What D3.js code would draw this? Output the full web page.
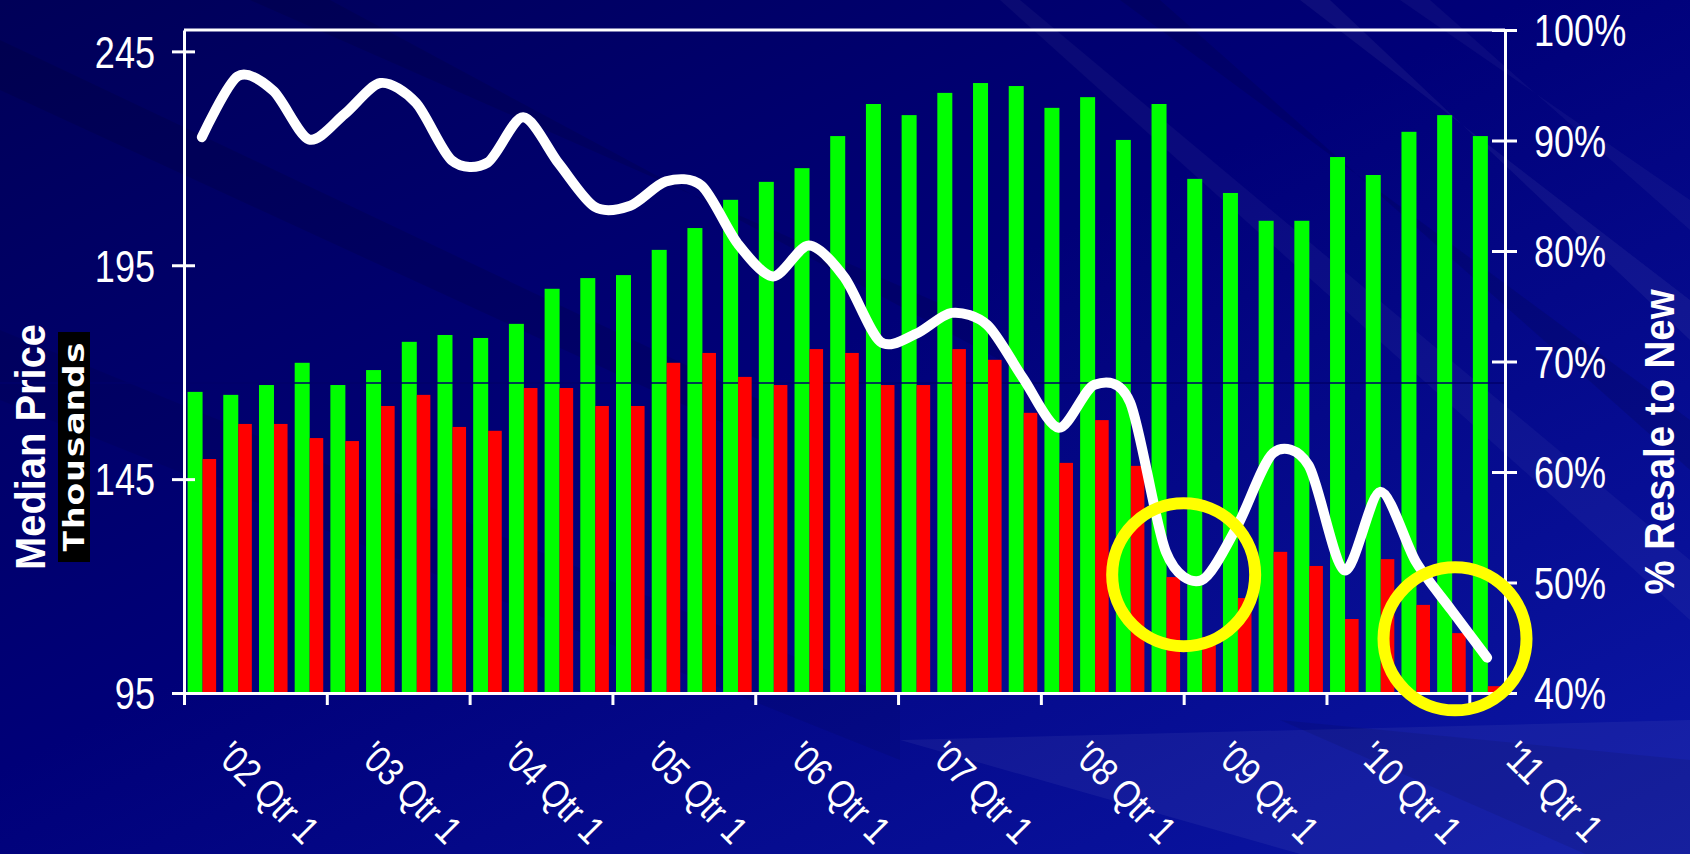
<!DOCTYPE html>
<html>
<head>
<meta charset="utf-8">
<script src="https://cdn.jsdelivr.net/npm/d3@7"></script>
<style>
  html, body { margin: 0; padding: 0; background: #000070; overflow: hidden; }
  svg { display: block; }
</style>
</head>
<body>
<script>
// quarterly data, '02 Q1 .. '11 Q1
const quarters = [];
for (let yr = 2; yr <= 11; yr++) {
    for (let q = 1; q <= 4; q++) {
        if (yr === 11 && q > 1) break;
        quarters.push(`'${String(yr).padStart(2, "0")} Qtr ${q}`);
    }
}

// median price, thousands
const newPrice = [165.4, 164.7, 167.0, 172.2, 167.0, 170.5, 177.1, 178.7, 178.0, 181.3,
                  189.5, 192.0, 192.7, 198.6, 203.7, 210.3, 214.5, 217.7, 225.2, 232.7,
                  230.1, 235.3, 237.6, 236.9, 231.8, 234.3, 224.3, 232.7, 215.2, 211.9,
                  205.4, 205.4, 220.3, 216.1, 226.2, 230.1, 225.2];
const resalePrice = [149.7, 157.9, 157.9, 154.6, 153.9, 162.1, 164.7, 157.2, 156.3, 166.3,
                     166.3, 162.1, 162.1, 172.2, 174.5, 168.9, 167.0, 175.4, 174.5, 167.0,
                     167.0, 175.4, 172.9, 160.5, 148.8, 158.8, 148.1, 122.1, 108.1, 117.2,
                     128.0, 124.7, 112.3, 126.3, 115.6, 109.0, 96.6];
// resale price as share of new
const resaleRatio = [0.903, 0.958, 0.945, 0.901, 0.924, 0.952, 0.934, 0.882, 0.880, 0.921,
                     0.879, 0.840, 0.841, 0.863, 0.859, 0.807, 0.777, 0.805, 0.776, 0.718,
                     0.725, 0.744, 0.733, 0.685, 0.640, 0.679, 0.663, 0.528, 0.502, 0.551,
                     0.617, 0.606, 0.511, 0.582, 0.519, 0.475, 0.432];

const leftTicks = [95, 145, 195, 245];
const rightTicks = [0.4, 0.5, 0.6, 0.7, 0.8, 0.9, 1.0];
const yearTickIdx = d3.range(0, quarters.length, 4);
const refLevel = 167.5;
// circled spots: position in quarters, ratio
const highlights = [{ q: 28.0, ratio: 0.507 }, { q: 35.6, ratio: 0.449 }];

const W = 1690, H = 854;
const plotL = 184, plotR = 1505, plotT = 30, plotB = 693;
const GREEN = "#00ff00", RED = "#ff0000", YELLOW = "#ffff00";
const FONT = "'Liberation Sans', Arial, sans-serif";

const svg = d3.select("body").append("svg")
    .attr("width", W)
    .attr("height", H);

// ---- background ----
const defs = svg.append("defs");
const bg = defs.append("linearGradient").attr("id", "bg")
    .attr("x1", 0).attr("y1", 0).attr("x2", 1).attr("y2", 1);
bg.append("stop").attr("offset", 0).attr("stop-color", "#000058");
bg.append("stop").attr("offset", 0.45).attr("stop-color", "#000078");
bg.append("stop").attr("offset", 1).attr("stop-color", "#0c18a8");
svg.append("rect").attr("width", W).attr("height", H).attr("fill", "url(#bg)");

const stripes = [
    { pts: [[0, 40], [760, 400], [760, 440], [0, 90]], fill: "#000", op: 0.10 },
    { pts: [[0, 330], [900, 700], [900, 760], [0, 400]], fill: "#000", op: 0.07 },
    { pts: [[250, 0], [1000, 330], [1000, 360], [330, 0]], fill: "#000", op: 0.10 },
    { pts: [[1020, 0], [1690, 560], [1690, 620], [1000, 0]], fill: "#fff", op: 0.04 },
    { pts: [[1120, 0], [1690, 420], [1690, 470], [1160, 0]], fill: "#000", op: 0.10 },
    { pts: [[1300, 0], [1690, 300], [1690, 340], [1330, 0]], fill: "#fff", op: 0.05 },
    { pts: [[1400, 0], [1690, 200], [1690, 230], [1430, 0]], fill: "#fff", op: 0.04 },
    { pts: [[900, 740], [1690, 720], [1690, 854], [1300, 854]], fill: "#fff", op: 0.05 },
    { pts: [[1280, 720], [1690, 900], [1690, 854], [1690, 760]], fill: "#000", op: 0.08 }
];
svg.append("g").selectAll("polygon").data(stripes).join("polygon")
    .attr("points", d => d.pts.map(p => p.join(",")).join(" "))
    .attr("fill", d => d.fill)
    .attr("fill-opacity", d => d.op);

// ---- scales ----
const x = d3.scaleBand().domain(d3.range(quarters.length)).range([plotL, plotR]);
const xq = d3.scaleLinear().domain([0, quarters.length]).range([plotL, plotR]);
const yL = d3.scaleLinear().domain([95, 250]).range([plotB, plotT]);
const yR = d3.scaleLinear().domain([0.4, 1.0]).range([plotB, plotT]);
const bw = x.bandwidth();

// ---- bars ----
svg.append("g").selectAll("rect").data(newPrice).join("rect")
    .attr("x", (d, i) => x(i) + bw * 0.1)
    .attr("width", bw * 0.42)
    .attr("y", d => yL(d))
    .attr("height", d => plotB - yL(d))
    .attr("fill", GREEN);

// thin dark line crossing the chart
svg.append("line")
    .attr("x1", 0).attr("x2", plotR)
    .attr("y1", yL(refLevel)).attr("y2", yL(refLevel))
    .attr("stroke", "#00006a").attr("stroke-width", 1.5);

svg.append("g").selectAll("rect").data(resalePrice).join("rect")
    .attr("x", (d, i) => x(i) + bw * 0.52)
    .attr("width", bw * 0.38)
    .attr("y", d => yL(d))
    .attr("height", d => plotB - yL(d))
    .attr("fill", RED);

// ---- ratio line ----
const line = d3.line()
    .x((d, i) => x(i) + bw / 2)
    .y(d => yR(d))
    .curve(d3.curveCardinal.tension(0.15));
svg.append("path")
    .datum(resaleRatio)
    .attr("d", line)
    .attr("fill", "none")
    .attr("stroke", "#fff")
    .attr("stroke-width", 10)
    .attr("stroke-linecap", "round")
    .attr("stroke-linejoin", "round");

// ---- axes ----
function styleAxis(g) {
    g.select(".domain").attr("stroke", "#fff").attr("stroke-width", 3);
    g.selectAll(".tick line").attr("stroke", "#fff").attr("stroke-width", 3);
    g.selectAll(".tick text")
        .attr("fill", "#fff")
        .style("font-family", FONT)
        .style("font-size", "44px");
}

const axL = svg.append("g")
    .attr("transform", `translate(${plotL},0)`)
    .call(d3.axisLeft(yL).tickValues(leftTicks).tickSizeOuter(0).tickFormat(d3.format("d")))
    .call(styleAxis);
axL.selectAll(".tick line").attr("x1", -12).attr("x2", 11);
axL.selectAll(".tick text")
    .attr("x", 0).attr("dy", "0.36em")
    .attr("transform", "translate(-29,0) scale(0.82,1)");

const axR = svg.append("g")
    .attr("transform", `translate(${plotR},0)`)
    .call(d3.axisRight(yR).tickValues(rightTicks).tickSizeOuter(0).tickFormat(d3.format(".0%")))
    .call(styleAxis);
axR.selectAll(".tick line").attr("x1", -13).attr("x2", 12);
axR.selectAll(".tick text")
    .attr("x", 0).attr("dy", "0.36em")
    .attr("transform", "translate(29,0) scale(0.82,1)");

const axB = svg.append("g")
    .attr("transform", `translate(0,${plotB})`)
    .call(d3.axisBottom(xq).tickValues(yearTickIdx).tickSize(12).tickSizeOuter(0).tickFormat(""))
    .call(styleAxis);

// top border of plot area
svg.append("line")
    .attr("x1", plotL).attr("x2", plotR)
    .attr("y1", plotT).attr("y2", plotT)
    .attr("stroke", "#fff").attr("stroke-width", 3);

// category labels, one per year
svg.append("g").selectAll("text").data(yearTickIdx).join("text")
    .attr("transform", i => `translate(${x(i) + bw / 2 + 13},758) rotate(45) scale(0.84,1)`)
    .attr("fill", "#fff")
    .style("font-family", FONT)
    .style("font-size", "39px")
    .text(i => quarters[i]);

// ---- axis titles ----
svg.append("text")
    .attr("transform", "translate(45,447) rotate(-90)")
    .attr("text-anchor", "middle")
    .attr("fill", "#fff")
    .attr("textLength", 246)
    .attr("lengthAdjust", "spacingAndGlyphs")
    .style("font-family", FONT)
    .style("font-weight", "bold")
    .style("font-size", "42px")
    .text("Median Price");

svg.append("rect")
    .attr("x", 58).attr("y", 332)
    .attr("width", 32).attr("height", 230)
    .attr("fill", "#000");
svg.append("text")
    .attr("transform", "translate(84,447) rotate(-90)")
    .attr("text-anchor", "middle")
    .attr("fill", "#fff")
    .attr("textLength", 212)
    .attr("lengthAdjust", "spacingAndGlyphs")
    .style("font-family", "'DejaVu Sans Mono', monospace")
    .style("font-weight", "bold")
    .style("font-size", "29px")
    .text("Thousands");

svg.append("text")
    .attr("transform", "translate(1674,442) rotate(-90)")
    .attr("text-anchor", "middle")
    .attr("fill", "#fff")
    .attr("textLength", 305)
    .attr("lengthAdjust", "spacingAndGlyphs")
    .style("font-family", FONT)
    .style("font-weight", "bold")
    .style("font-size", "42px")
    .text("% Resale to New");

// ---- highlight circles ----
svg.append("g").selectAll("circle").data(highlights).join("circle")
    .attr("cx", d => xq(d.q))
    .attr("cy", d => yR(d.ratio))
    .attr("r", 71.5)
    .attr("fill", "none")
    .attr("stroke", YELLOW)
    .attr("stroke-width", 12);
</script>
</body>
</html>
